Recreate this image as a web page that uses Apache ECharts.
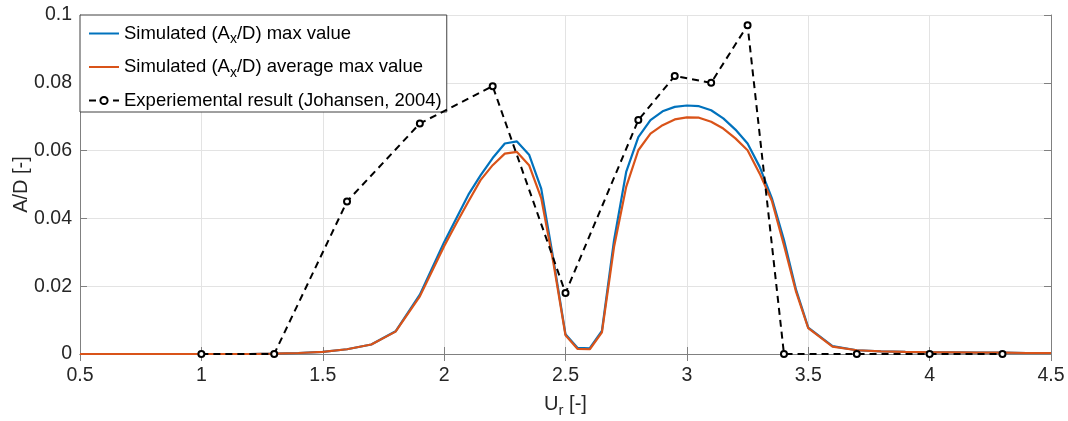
<!DOCTYPE html>
<html>
<head>
<meta charset="utf-8">
<script src="https://cdn.jsdelivr.net/npm/echarts@6/dist/echarts.min.js"></script>
<style>
  html, body { margin: 0; padding: 0; background: #fff; }
  #chart { width: 1068px; height: 421px; }
</style>
</head>
<body>
<div id="chart"></div>
<script>
  // simulated curves, sampled on the Ur grid below
  const urSim = [0.5, 0.6, 0.7, 0.8, 0.9, 1.0, 1.1, 1.2, 1.3, 1.4, 1.5, 1.6, 1.7, 1.8, 1.9, 2.0,
    2.05, 2.1, 2.15, 2.2, 2.25, 2.3, 2.35, 2.4, 2.45, 2.5, 2.55, 2.6, 2.65, 2.7, 2.75, 2.8, 2.85,
    2.9, 2.95, 3.0, 3.05, 3.1, 3.15, 3.2, 3.25, 3.3, 3.35, 3.4, 3.45, 3.5,
    3.6, 3.7, 3.8, 3.9, 4.0, 4.1, 4.2, 4.3, 4.4, 4.5];
  const simMax = [0, 0, 0, 0, 0, 0, 0, 0, 0.0001, 0.0003, 0.0006, 0.0014, 0.0028, 0.0067, 0.0175, 0.033,
    0.040, 0.047, 0.0527, 0.0578, 0.0621, 0.0627, 0.0588, 0.0488, 0.028, 0.0058, 0.0018, 0.0017, 0.0068, 0.0336, 0.0537, 0.064, 0.069,
    0.0716, 0.0729, 0.0733, 0.0731, 0.0719, 0.0695, 0.0662, 0.0621, 0.0552, 0.046, 0.0336, 0.0189, 0.0078,
    0.0023, 0.0011, 0.0008, 0.0006, 0.0005, 0.0005, 0.0004, 0.0004, 0.0003, 0.0003];
  const simAvgMax = [0, 0, 0, 0, 0, 0, 0, 0, 0.0001, 0.0003, 0.0006, 0.0014, 0.0028, 0.0066, 0.017, 0.0318,
    0.0385, 0.045, 0.0513, 0.0557, 0.0591, 0.0596, 0.0557, 0.046, 0.027, 0.0055, 0.0015, 0.0014, 0.0064, 0.0316, 0.0493, 0.0601, 0.065,
    0.0675, 0.0692, 0.0698, 0.0697, 0.0685, 0.0665, 0.0636, 0.0601, 0.0532, 0.0452, 0.0321, 0.0183, 0.0076,
    0.0022, 0.0011, 0.0008, 0.0006, 0.0005, 0.0005, 0.0004, 0.0004, 0.0003, 0.0003];

  // experimental points (Johansen, 2004)
  const urExp = [1.0, 1.3, 1.6, 1.9, 2.2, 2.5, 2.8, 2.95, 3.1, 3.25, 3.4, 3.7, 4.0, 4.3];
  const expResult = [0, 0, 0.045, 0.068, 0.079, 0.018, 0.069, 0.082, 0.080, 0.097, 0, 0, 0, 0];

  const seriesNames = [
    'Simulated (Ax/D) max value',
    'Simulated (Ax/D) average max value',
    'Experiemental result (Johansen, 2004)'
  ];
  const legendRich = [
    '{n|Simulated (A}{s|x}{n|/D) max value}',
    '{n|Simulated (A}{s|x}{n|/D) average max value}',
    '{n|Experiemental result (Johansen, 2004)}'
  ];

  const pairs = (xs, ys) => xs.map((x, i) => [x, ys[i]]);

  const axisGray = '#808080';
  const textDark = '#262626';
  const fontFam = '"Liberation Sans", Arial, sans-serif';

  const chart = echarts.init(document.getElementById('chart'));

  const hiddenAxis = {
    axisLabel: { show: false },
    axisLine: { lineStyle: { color: axisGray } },
    axisTick: { inside: true, length: 7, lineStyle: { color: axisGray } },
    splitLine: { show: false }
  };

  chart.setOption({
    animation: false,
    textStyle: { fontFamily: fontFam },
    grid: { left: 80, right: 17, top: 15, bottom: 67, outerBoundsMode: 'none' },
    legend: {
      orient: 'vertical',
      left: 80,
      top: 15,
      padding: [9, 5, 2, 8],
      itemGap: 11,
      itemWidth: 30,
      itemHeight: 9,
      backgroundColor: '#fff',
      borderColor: '#404040',
      borderWidth: 1,
      data: [
        { name: seriesNames[0], itemStyle: { opacity: 0 } },
        { name: seriesNames[1], itemStyle: { opacity: 0 } },
        { name: seriesNames[2] }
      ],
      formatter: (name) => legendRich[seriesNames.indexOf(name)],
      textStyle: {
        color: '#000',
        rich: {
          n: { fontSize: 18.5, fontFamily: fontFam, color: '#000', lineHeight: 20 },
          s: { fontSize: 14, fontFamily: fontFam, color: '#000', padding: [12, 0, 0, 0] }
        }
      }
    },
    xAxis: [
      {
        type: 'value',
        min: 0.5,
        max: 4.5,
        interval: 0.5,
        name: '{n|U}{s|r}{n| [-]}',
        nameLocation: 'middle',
        nameGap: 36,
        nameTextStyle: {
          rich: {
            n: { fontSize: 20, color: textDark, fontFamily: fontFam },
            s: { fontSize: 15, color: textDark, fontFamily: fontFam, padding: [13, 0, 0, 0] }
          }
        },
        axisLine: { lineStyle: { color: axisGray } },
        axisTick: { inside: true, length: 7, lineStyle: { color: axisGray } },
        axisLabel: { color: textDark, fontSize: 19.5, margin: 12 },
        splitLine: { lineStyle: { color: '#e3e3e3' } }
      },
      Object.assign({ type: 'value', position: 'top', min: 0.5, max: 4.5, interval: 0.5 }, hiddenAxis)
    ],
    yAxis: [
      {
        type: 'value',
        min: 0,
        max: 0.1,
        interval: 0.02,
        name: 'A/D [-]',
        nameLocation: 'middle',
        nameGap: 49,
        nameMoveOverlap: false,
        nameTextStyle: { fontSize: 20, color: textDark },
        axisLine: { show: true, lineStyle: { color: axisGray } },
        axisTick: { show: true, inside: true, length: 7, lineStyle: { color: axisGray } },
        axisLabel: { color: textDark, fontSize: 19.5, margin: 8 },
        splitLine: { lineStyle: { color: '#e3e3e3' } }
      },
      Object.assign({ type: 'value', position: 'right', min: 0, max: 0.1, interval: 0.02 }, hiddenAxis, {
        axisLine: { show: true, lineStyle: { color: axisGray } },
        axisTick: { show: true, inside: true, length: 7, lineStyle: { color: axisGray } }
      })
    ],
    series: [
      {
        name: seriesNames[0],
        type: 'line',
        data: pairs(urSim, simMax),
        showSymbol: false,
        symbol: 'none',
        lineStyle: { color: '#0072BD', width: 2.2 },
        itemStyle: { color: '#0072BD' },
        z: 2
      },
      {
        name: seriesNames[1],
        type: 'line',
        data: pairs(urSim, simAvgMax),
        showSymbol: false,
        symbol: 'none',
        lineStyle: { color: '#D95319', width: 2.2 },
        itemStyle: { color: '#D95319' },
        z: 3
      },
      {
        name: seriesNames[2],
        type: 'line',
        data: pairs(urExp, expResult),
        symbol: 'emptyCircle',
        symbolSize: 6,
        lineStyle: { color: '#000', width: 2, type: [7, 5] },
        itemStyle: { color: '#000', borderColor: '#000', borderWidth: 1.6 },
        z: 4
      }
    ]
  });

  window.addEventListener('resize', () => chart.resize());
</script>
</body>
</html>
